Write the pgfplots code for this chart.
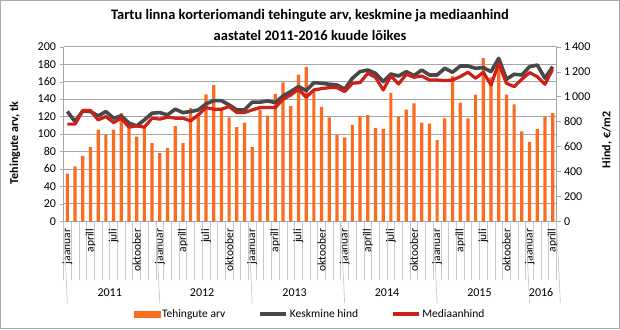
\documentclass[border=0pt]{standalone}
\usepackage{pgfplots}
\pgfplotsset{compat=1.18}
\usepackage{pgfplotstable}
\usepackage{fontspec}
\setmainfont{Carlito}
\definecolor{barcol}{RGB}{252,108,32}
\definecolor{avgcol}{RGB}{72,72,72}
\definecolor{medcol}{RGB}{204,32,24}
\definecolor{gridcol}{RGB}{166,166,166}
\definecolor{sepcol}{RGB}{200,200,200}
\definecolor{bordcol}{RGB}{170,170,170}

\pgfplotstableread{
i n
0 54.5
1 63
2 75
3 85
4 105
5 99
6 105
7 124
8 108
9 97
10 107
11 89.5
12 78
13 84
14 109
15 89.5
16 129.5
17 120
18 145.5
19 156
20 128
21 119
22 108
23 113
24 85
25 128
26 121
27 146
28 159
29 132
30 168
31 177
32 148
33 131
34 119
35 99
36 96
37 110.5
38 120.5
39 121.5
40 107
41 106
42 147
43 120
44 128
45 135
46 113
47 112
48 93
49 118
50 166.5
51 136
52 118
53 145
54 187
55 165
56 183
57 145
58 134
59 103
60 91
61 106
62 120
63 124
}\bars

\pgfplotstableread{
i avg med
0 880 779
1 800 779
2 885 888
3 880 888
4 845 813
5 880 840
6 827 792
7 845 827
8 787 755
9 765 765
10 813 755
11 867 827
12 872 819
13 853 835
14 899 827
15 872 827
16 880 805
17 893 853
18 941 912
19 968 899
20 968 899
21 933 920
22 893 872
23 893 872
24 955 893
25 955 912
26 965 912
27 952 912
28 1005 979
29 1040 1013
30 1080 1059
31 1048 995
32 1112 1053
33 1107 1064
34 1099 1072
35 1093 1072
36 1059 1040
37 1147 1107
38 1200 1112
39 1213 1187
40 1187 1155
41 1120 1053
42 1181 1165
43 1165 1101
44 1200 1179
45 1168 1155
46 1213 1165
47 1173 1133
48 1173 1133
49 1227 1128
50 1195 1133
51 1245 1160
52 1245 1195
53 1227 1147
54 1232 1195
55 1200 1093
56 1307 1267
57 1139 1107
58 1179 1080
59 1173 1139
60 1240 1192
61 1253 1160
62 1147 1099
63 1240 1219
}\prices

\begin{document}
\begin{tikzpicture}[x=1pt,y=1pt]
\useasboundingbox (0,0) rectangle (620,329);
\draw[bordcol, line width=0.8pt] (0.5,0.5) rectangle (619.5,328.5);
\node[align=center, font=\bfseries\fontsize{14.5}{21}\selectfont] at (310,304) {Tartu linna korteriomandi tehingute arv, keskmine ja mediaanhind\\aastatel 2011-2016 kuude lõikes};
\node[rotate=90, font=\bfseries\fontsize{12}{14}\selectfont] at (15,186) {Tehingute arv, tk};
\node[rotate=90, font=\bfseries\fontsize{12}{14}\selectfont] at (607,189) {Hind, €/m2};

\begin{axis}[
  at={(63.5pt,107.7pt)}, anchor=south west,
  width=493pt, height=174.6pt, scale only axis,
  xmin=-0.5, xmax=63.5, ymin=0, ymax=200,
  axis y line*=left, axis x line*=bottom,
  axis line style={gridcol},
  ytick={0,20,...,200},
  ymajorgrids, grid style={gridcol, line width=0.7pt},
  tick align=outside, major tick length=4pt,
  y tick style={gridcol},
  yticklabel style={font=\fontsize{12}{14}\selectfont, /pgf/number format/assume math mode=true},
  xtick={0,3,...,63},
  xticklabels={jaanuar,aprill,juli,oktoober,jaanuar,aprill,juli,oktoober,jaanuar,aprill,juli,oktoober,jaanuar,aprill,juli,oktoober,jaanuar,aprill,juli,oktoober,jaanuar,aprill},
  major x tick style={draw=none},
  xticklabel style={rotate=90, anchor=east, font=\fontsize{11.5}{13}\selectfont},
  minor xtick={-0.5,0.5,...,63.5},
  minor tick length=59pt,
  minor x tick style={sepcol, line width=0.7pt},
  clip=false,
]
\addplot[ybar, bar width=3.2pt, fill=barcol, draw=none] table[x=i,y=n] {\bars};
\draw[sepcol, line width=0.7pt] (axis cs:-0.5,0) -- ++(0,-82pt);
\draw[sepcol, line width=0.7pt] (axis cs:11.5,0) -- ++(0,-82pt);
\draw[sepcol, line width=0.7pt] (axis cs:23.5,0) -- ++(0,-82pt);
\draw[sepcol, line width=0.7pt] (axis cs:35.5,0) -- ++(0,-82pt);
\draw[sepcol, line width=0.7pt] (axis cs:47.5,0) -- ++(0,-82pt);
\draw[sepcol, line width=0.7pt] (axis cs:59.5,0) -- ++(0,-82pt);
\draw[sepcol, line width=0.7pt] (axis cs:63.5,0) -- ++(0,-82pt);
\node[font=\fontsize{12}{14}\selectfont] at (axis cs:5.5,0) [yshift=-71pt] {2011};
\node[font=\fontsize{12}{14}\selectfont] at (axis cs:17.5,0) [yshift=-71pt] {2012};
\node[font=\fontsize{12}{14}\selectfont] at (axis cs:29.5,0) [yshift=-71pt] {2013};
\node[font=\fontsize{12}{14}\selectfont] at (axis cs:41.5,0) [yshift=-71pt] {2014};
\node[font=\fontsize{12}{14}\selectfont] at (axis cs:53.5,0) [yshift=-71pt] {2015};
\node[font=\fontsize{12}{14}\selectfont] at (axis cs:61.5,0) [yshift=-71pt] {2016};
\end{axis}

\begin{axis}[
  at={(63.5pt,107.7pt)}, anchor=south west,
  width=493pt, height=174.6pt, scale only axis,
  xmin=-0.5, xmax=63.5, ymin=0, ymax=1400,
  axis x line=none, axis y line*=right,
  axis line style={gridcol},
  tick align=outside, major tick length=4pt,
  y tick style={gridcol},
  ytick={0,200,...,1400},
  yticklabels={0,200,400,600,800,1\,000,1\,200,1\,400},
  yticklabel style={font=\fontsize{12}{14}\selectfont},
  legend image code/.code={\draw[#1] (0pt,0pt) -- (26pt,0pt);},
  legend style={at={(axis description cs:0.5,-0.531)}, anchor=center, draw=none, fill=none,
    font=\fontsize{11.5}{13}\selectfont, legend columns=3,
    /tikz/every even column/.append style={column sep=31pt},
    nodes={inner sep=2pt}},
  clip=false,
]
\addlegendimage{legend image code/.code={\fill[barcol] (0pt,-3pt) rectangle (26pt,3pt);}}
\addlegendentry{Tehingute arv}
\addplot[avgcol, line width=3.6pt, line join=round] table[x=i,y=avg] {\prices};
\addlegendentry{Keskmine hind}
\addplot[medcol, line width=3.2pt, line join=round] table[x=i,y=med] {\prices};
\addlegendentry{Mediaanhind}
\end{axis}
\end{tikzpicture}
\end{document}
